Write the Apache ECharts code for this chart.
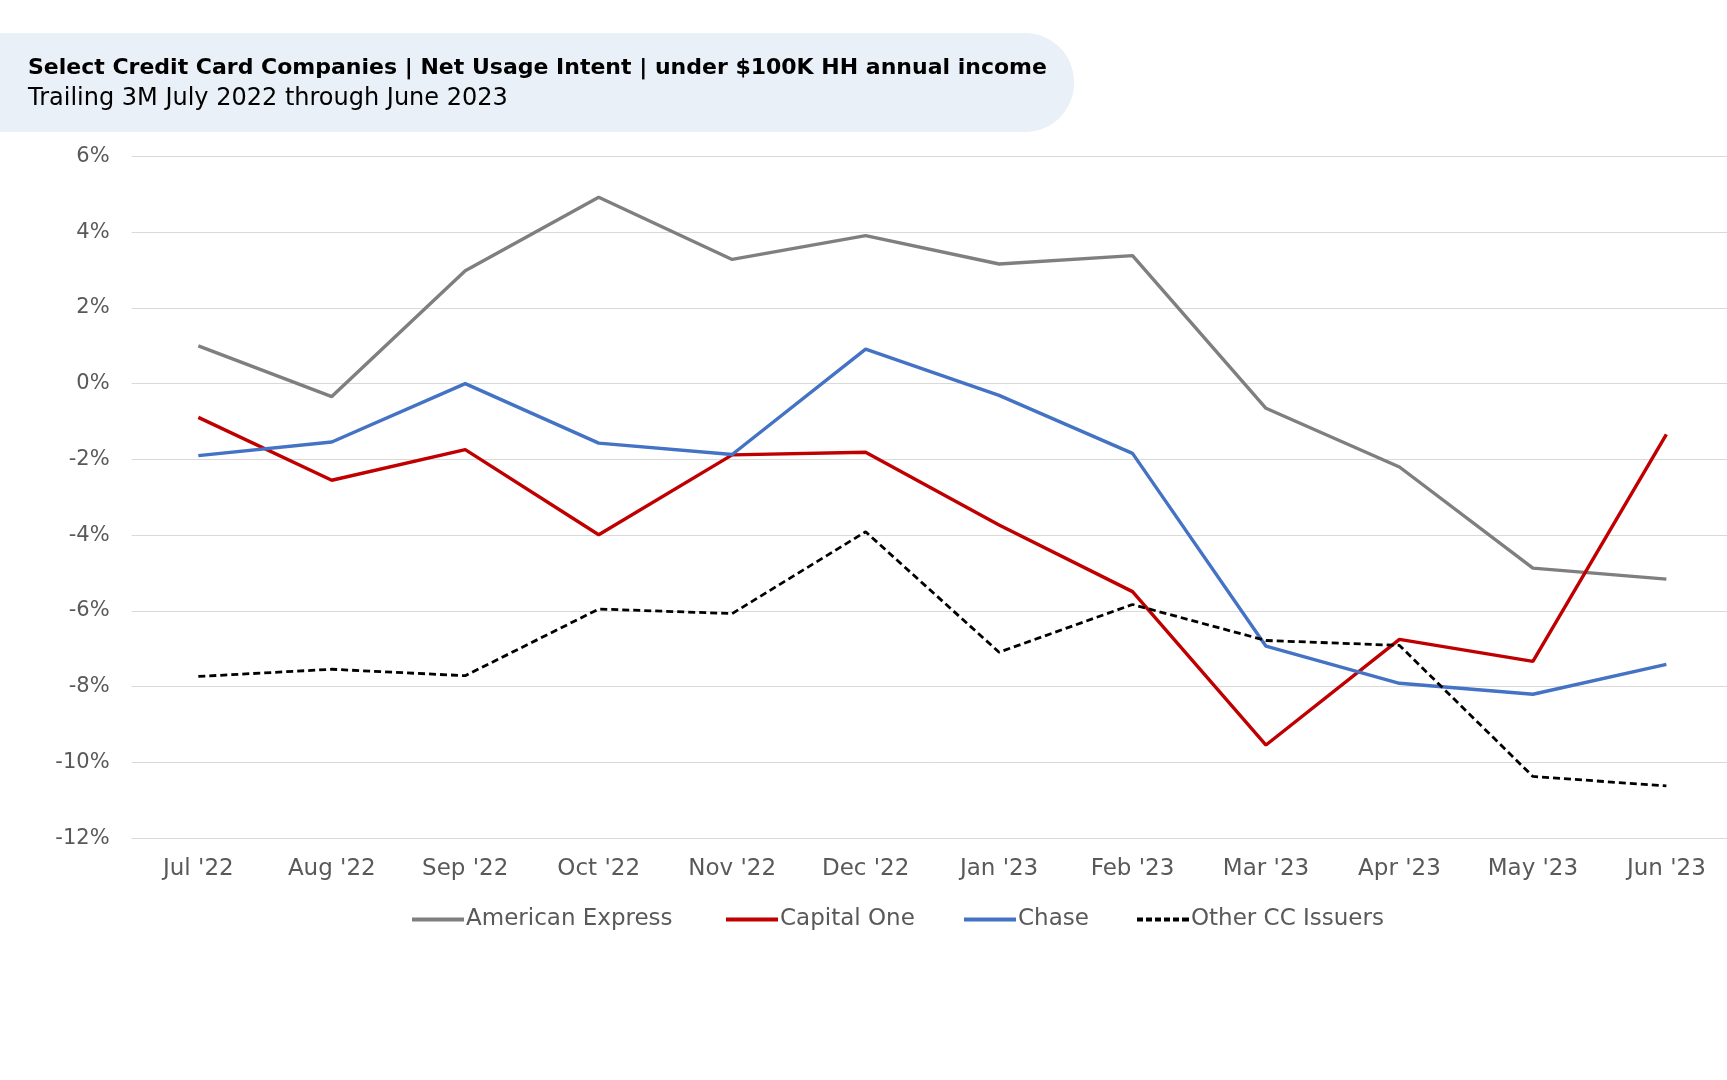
<!DOCTYPE html>
<html>
<head>
<meta charset="utf-8">
<script src="https://cdn.jsdelivr.net/npm/echarts@6/dist/echarts.min.js"></script>
<style>
html,body{margin:0;padding:0;background:#fff;overflow:hidden;}
#chart{width:1745px;height:1080px;}
</style>
</head>
<body>
<div id="chart"></div>
<script>
const categories = ["Jul '22","Aug '22","Sep '22","Oct '22","Nov '22","Dec '22","Jan '23","Feb '23","Mar '23","Apr '23","May '23","Jun '23"];
const amex = [1.0,-0.34,2.98,4.92,3.28,3.91,3.16,3.38,-0.65,-2.20,-4.87,-5.16];
const capitalOne = [-0.89,-2.55,-1.74,-3.99,-1.88,-1.81,-3.73,-5.49,-9.54,-6.75,-7.33,-1.34];
const chase = [-1.90,-1.54,0.0,-1.57,-1.87,0.91,-0.31,-1.84,-6.93,-7.91,-8.20,-7.41];
const otherIssuers = [-7.73,-7.54,-7.71,-5.95,-6.07,-3.91,-7.09,-5.83,-6.78,-6.91,-10.37,-10.62];
const seriesNames = ['American Express','Capital One','Chase','Other CC Issuers'];

const FONT = "'DejaVu Sans', 'Noto Sans', sans-serif";
const chart = echarts.init(document.getElementById('chart'), null, {renderer:'canvas'});
const mk = (name, data, color, dashed) => ({
  name, type:'line', data, symbol:'none', showSymbol:false, smooth:false,
  lineStyle:{color, width: dashed ? 2.8 : 3.4, type: dashed ? [7,4] : 'solid'},
  itemStyle:{color}
});
const SOLID = 'path://M0,0 L52,0 L52,4 L0,4 Z';
const DASHED = 'path://M0,0 h6 v4 h-6 Z M9,0 h6 v4 h-6 Z M18,0 h6 v4 h-6 Z M27,0 h6 v4 h-6 Z M36,0 h6 v4 h-6 Z M45,0 h7 v4 h-7 Z';
const legendLefts = [407, 721, 959, 1132];
const mkLegend = (i) => ({
  left: legendLefts[i], top: 903, itemWidth: 52, itemHeight: 4, itemGap: 0,
  icon: i === 3 ? DASHED : SOLID,
  textStyle:{color:'#595959', fontSize:23, fontFamily:FONT, padding:[0,0,0,-3]},
  data:[seriesNames[i]]
});
chart.setOption({
  animation:false,
  backgroundColor:'#fff',
  graphic:[
    {type:'rect', shape:{x:-60, y:33, width:1134, height:99, r:49}, style:{fill:'#e9f0f7'}, z:0},
    {type:'text', left:28, top:57, style:{text:'Select Credit Card Companies | Net Usage Intent | under $100K HH annual income', font:"700 22px "+FONT, fill:'#000'}},
    {type:'text', left:28, top:87, style:{text:'Trailing 3M July 2022 through June 2023', font:"400 24px "+FONT, fill:'#000'}}
  ],
  grid:{left:131.6, top:156.4, width:1601.5, height:681.8, containLabel:false},
  xAxis:{
    type:'category', data:categories, boundaryGap:true,
    axisLine:{show:false}, axisTick:{show:false},
    axisLabel:{color:'#595959', fontSize:23, fontFamily:FONT, margin:19, interval:0}
  },
  yAxis:{
    type:'value', min:-12, max:6, interval:2,
    axisLine:{show:false}, axisTick:{show:false},
    splitLine:{lineStyle:{color:'#d9d9d9', width:1}},
    axisLabel:{color:'#595959', fontSize:21, fontFamily:FONT, margin:22, padding:[4,0,0,0], formatter: v => v + '%'}
  },
  legend:[0,1,2,3].map(mkLegend),
  series:[
    mk(seriesNames[0], amex, '#7f7f7f', false),
    mk(seriesNames[1], capitalOne, '#c00000', false),
    mk(seriesNames[2], chase, '#4472c4', false),
    mk(seriesNames[3], otherIssuers, '#000000', true)
  ]
});
</script>
</body>
</html>
